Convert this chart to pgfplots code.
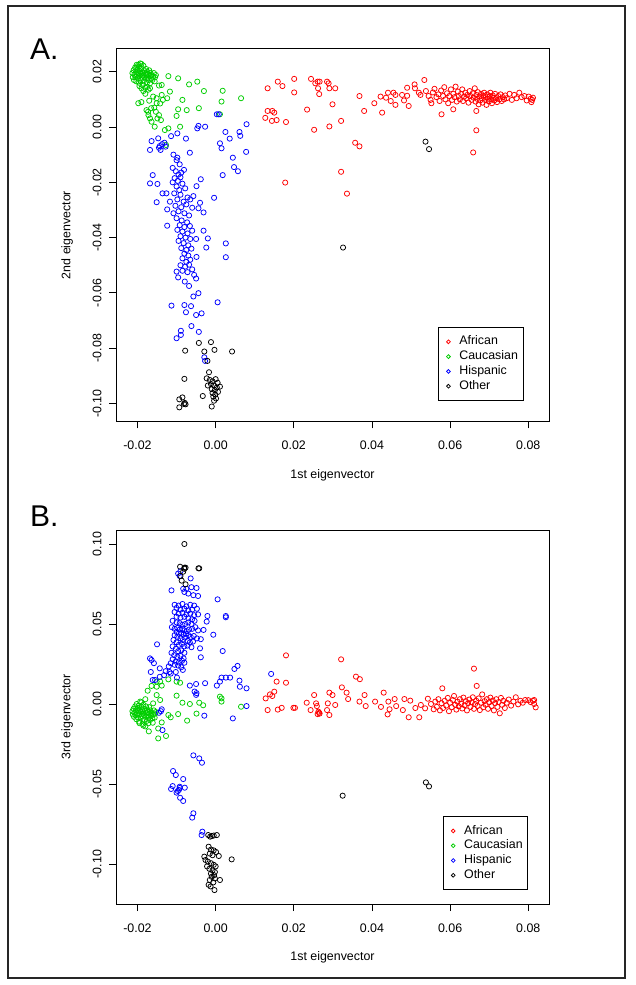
\documentclass[border=0pt]{standalone}
\usepackage{pgfplots}
\pgfplotsset{compat=1.18}
\usepackage{fontspec}
\setmainfont{Liberation Sans}
\definecolor{rred}{RGB}{255,0,0}
\definecolor{rgreen}{RGB}{0,205,0}
\definecolor{rblue}{RGB}{0,0,255}
\newcommand{\fs}{\fontsize{12.4}{14}\selectfont}
\pgfplotsset{
  pca/.style={
    scale only axis, width=433pt,
    xmin=-0.0255, xmax=0.0853,
    axis line style={line width=0.8pt},
    every tick/.style={line width=0.8pt, black},
    tick align=outside, major tick length=7pt,
    xtick={-0.02,0,0.02,0.04,0.06,0.08},
    xtick pos=bottom, ytick pos=left,
    scaled ticks=false,
    tick label style={font=\fs},
    /pgf/number format/assume math mode=true,
    /pgf/number format/fixed,
    /pgf/number format/fixed zerofill,
    /pgf/number format/precision=2,
    xticklabel style={anchor=north, yshift=-9.5pt},
    yticklabel style={xshift=-4pt, rotate=90, anchor=south},
    label style={font=\fs},
    xlabel={1st eigenvector},
    ylabel style={at={(axis description cs:-0.113,0.5)}, anchor=center},
    only marks,
    legend cell align=left,
    legend style={draw=black, line width=0.8pt, fill=white, font=\fs,
      inner xsep=3.5pt, inner ysep=7pt, row sep=0pt,
      nodes={inner sep=1.5pt, text height=9pt, text depth=2.8pt},
      anchor=north west},
    legend image code/.code={\path (0pt,0pt) (15pt,0pt); \draw[##1, mark size=1.9pt] plot coordinates {(6pt,0pt)};},
  },
  pt/.style={mark=o, mark size=2.6pt, mark options={line width=0.75pt}},
}
\begin{document}
\begin{tikzpicture}
\useasboundingbox (0pt,0pt) rectangle (635pt,985pt);
\draw[line width=2pt, black!85] (8pt,7pt) rectangle (625pt,979pt);
\node[anchor=base west, font=\fontsize{30}{34}\selectfont, inner sep=0pt] at (30pt,925pt) {A.};
\node[anchor=base west, font=\fontsize{30}{34}\selectfont, inner sep=0pt] at (30pt,458pt) {B.};

% ---------------- Panel A ----------------
\begin{axis}[pca, at={(116pt,563.7pt)}, anchor=south west, height=372.6pt,
  ymin=-0.10644, ymax=0.02832,
  ytick={-0.10,-0.08,-0.06,-0.04,-0.02,0,0.02},
  ylabel={2nd eigenvector},
  xlabel style={at={(axis description cs:0.5,-0.146)}, anchor=center},
  legend style={at={(0.744,0.253)}}]
\addplot[pt, rred] table {
0.0133 0.0140
0.0159 0.0164
0.0171 0.0148
0.0201 0.0174
0.0201 0.0125
0.0244 0.0174
0.0255 0.0158
0.0261 0.0164
0.0262 0.0140
0.0265 0.0119
0.0266 0.0164
0.0285 0.0164
0.0289 0.0158
0.0291 0.0140
0.0306 0.0140
0.0299 0.0082
0.0234 0.0063
0.0252 -0.0010
0.0291 0.0002
0.0321 0.0022
0.0127 0.0033
0.0133 0.0058
0.0145 0.0058
0.0150 0.0052
0.0144 0.0022
0.0156 0.0025
0.0180 0.0018
0.0178 -0.0201
0.0321 -0.0162
0.0336 -0.0241
0.0357 -0.0057
0.0368 -0.0070
0.0368 0.0112
0.0380 0.0058
0.0406 0.0086
0.0422 0.0110
0.0426 0.0052
0.0436 0.0106
0.0441 0.0124
0.0448 0.0094
0.0455 0.0124
0.0460 0.0080
0.0460 0.0116
0.0477 0.0116
0.0482 0.0096
0.0490 0.0142
0.0490 0.0113
0.0494 0.0076
0.0509 0.0154
0.0510 0.0140
0.0520 0.0124
0.0524 0.0116
0.0534 0.0170
0.0552 0.0086
0.0578 0.0046
0.0608 0.0064
0.0659 -0.0092
0.0667 0.0058
0.0667 -0.0012
0.0538 0.0130
0.0545 0.0112
0.0550 0.0098
0.0556 0.0125
0.0560 0.0138
0.0565 0.0108
0.0570 0.0118
0.0573 0.0094
0.0577 0.0132
0.0582 0.0112
0.0585 0.0144
0.0588 0.0100
0.0592 0.0122
0.0595 0.0086
0.0598 0.0112
0.0602 0.0136
0.0605 0.0098
0.0608 0.0120
0.0611 0.0108
0.0614 0.0146
0.0617 0.0092
0.0620 0.0128
0.0622 0.0112
0.0625 0.0100
0.0628 0.0120
0.0631 0.0136
0.0633 0.0094
0.0636 0.0110
0.0639 0.0124
0.0641 0.0104
0.0644 0.0116
0.0647 0.0088
0.0650 0.0130
0.0652 0.0112
0.0655 0.0098
0.0658 0.0122
0.0660 0.0106
0.0663 0.0140
0.0665 0.0092
0.0667 0.0116
0.0669 0.0102
0.0671 0.0126
0.0673 0.0082
0.0675 0.0110
0.0677 0.0096
0.0679 0.0120
0.0681 0.0104
0.0683 0.0088
0.0685 0.0114
0.0687 0.0124
0.0689 0.0098
0.0691 0.0108
0.0693 0.0080
0.0695 0.0118
0.0697 0.0102
0.0699 0.0092
0.0701 0.0112
0.0703 0.0124
0.0705 0.0100
0.0707 0.0086
0.0709 0.0114
0.0711 0.0106
0.0713 0.0096
0.0715 0.0120
0.0718 0.0104
0.0720 0.0090
0.0723 0.0112
0.0726 0.0100
0.0729 0.0118
0.0732 0.0094
0.0735 0.0108
0.0738 0.0100
0.0741 0.0114
0.0745 0.0104
0.0752 0.0120
0.0758 0.0098
0.0764 0.0116
0.0770 0.0104
0.0777 0.0124
0.0783 0.0108
0.0790 0.0112
0.0796 0.0096
0.0801 0.0110
0.0806 0.0102
0.0810 0.0098
0.0812 0.0106
0.0808 0.0090
};
\addlegendentry{African}
\addplot[pt, rgreen] table {
-0.0213 0.0195
-0.0212 0.0180
-0.0210 0.0205
-0.0209 0.0170
-0.0208 0.0190
-0.0206 0.0215
-0.0205 0.0182
-0.0204 0.0198
-0.0203 0.0165
-0.0202 0.0225
-0.0201 0.0188
-0.0200 0.0208
-0.0199 0.0175
-0.0198 0.0195
-0.0197 0.0218
-0.0196 0.0160
-0.0195 0.0185
-0.0194 0.0202
-0.0193 0.0230
-0.0192 0.0170
-0.0191 0.0192
-0.0190 0.0212
-0.0189 0.0178
-0.0188 0.0198
-0.0187 0.0152
-0.0186 0.0186
-0.0185 0.0222
-0.0184 0.0165
-0.0183 0.0205
-0.0182 0.0180
-0.0181 0.0195
-0.0180 0.0142
-0.0179 0.0175
-0.0178 0.0210
-0.0177 0.0188
-0.0176 0.0160
-0.0175 0.0200
-0.0174 0.0178
-0.0173 0.0192
-0.0172 0.0135
-0.0171 0.0170
-0.0170 0.0205
-0.0169 0.0185
-0.0168 0.0158
-0.0167 0.0196
-0.0165 0.0175
-0.0164 0.0188
-0.0162 0.0170
-0.0160 0.0182
-0.0158 0.0195
-0.0156 0.0165
-0.0155 0.0180
-0.0153 0.0188
-0.0190 0.0140
-0.0185 0.0130
-0.0195 0.0148
-0.0180 0.0120
-0.0175 0.0145
-0.0168 0.0140
-0.0198 0.0225
-0.0203 0.0215
-0.0190 0.0228
-0.0198 0.0086
-0.0190 0.0090
-0.0177 0.0061
-0.0173 0.0055
-0.0165 0.0068
-0.0157 0.0070
-0.0153 0.0055
-0.0145 0.0043
-0.0149 0.0031
-0.0140 0.0025
-0.0156 0.0001
-0.0164 0.0019
-0.0168 0.0031
-0.0172 0.0043
-0.0130 -0.0011
-0.0121 -0.0005
-0.0127 -0.0065
-0.0151 0.0086
-0.0138 0.0116
-0.0121 0.0184
-0.0096 0.0176
-0.0068 0.0154
-0.0047 0.0164
-0.0030 0.0130
0.0018 0.0131
0.0065 0.0104
0.0015 0.0092
-0.0043 0.0068
-0.0074 0.0061
-0.0085 0.0098
-0.0096 0.0064
-0.0100 0.0040
-0.0091 0.0001
-0.0117 0.0128
-0.0124 0.0104
-0.0138 0.0152
-0.0145 0.0150
-0.0151 0.0104
-0.0142 0.0085
-0.0135 0.0098
0.0011 0.0046
-0.0160 0.0110
-0.0170 0.0095
};
\addlegendentry{Caucasian}
\addplot[pt, rblue] table {
0.0003 0.0046
0.0008 0.0046
0.0025 -0.0018
0.0036 -0.0042
0.0061 -0.0018
0.0063 -0.0032
0.0079 0.0010
0.0078 -0.0090
0.0044 -0.0111
0.0047 -0.0145
0.0057 -0.0160
0.0018 -0.0174
0.0011 -0.0059
0.0015 -0.0077
-0.0027 0.0001
-0.0044 0.0004
-0.0047 -0.0005
-0.0076 -0.0042
-0.0098 -0.0023
-0.0114 -0.0033
-0.0066 -0.0093
-0.0098 -0.0111
-0.0081 -0.0155
-0.0038 -0.0189
-0.0049 -0.0214
-0.0057 -0.0250
-0.0040 -0.0274
-0.0044 -0.0294
-0.0031 -0.0309
-0.0004 -0.0256
-0.0031 -0.0375
-0.0020 -0.0403
-0.0024 -0.0436
0.0026 -0.0421
0.0026 -0.0471
-0.0050 -0.0405
-0.0049 -0.0470
-0.0164 -0.0051
-0.0168 -0.0083
-0.0147 -0.0041
-0.0145 -0.0075
-0.0141 -0.0083
-0.0143 -0.0069
-0.0137 -0.0062
-0.0131 -0.0057
-0.0128 -0.0071
-0.0168 -0.0204
-0.0161 -0.0174
-0.0149 -0.0206
-0.0151 -0.0272
-0.0136 -0.0240
-0.0126 -0.0240
-0.0124 -0.0298
-0.0117 -0.0270
-0.0108 -0.0312
-0.0124 -0.0357
-0.0108 -0.0100
-0.0100 -0.0120
-0.0092 -0.0135
-0.0110 -0.0148
-0.0102 -0.0160
-0.0095 -0.0172
-0.0088 -0.0165
-0.0105 -0.0185
-0.0097 -0.0195
-0.0090 -0.0182
-0.0110 -0.0200
-0.0085 -0.0205
-0.0100 -0.0215
-0.0093 -0.0228
-0.0078 -0.0222
-0.0106 -0.0240
-0.0090 -0.0245
-0.0072 -0.0255
-0.0098 -0.0262
-0.0082 -0.0270
-0.0065 -0.0262
-0.0103 -0.0285
-0.0088 -0.0290
-0.0075 -0.0280
-0.0060 -0.0292
-0.0095 -0.0305
-0.0080 -0.0312
-0.0068 -0.0320
-0.0100 -0.0330
-0.0087 -0.0338
-0.0073 -0.0345
-0.0092 -0.0355
-0.0080 -0.0362
-0.0066 -0.0358
-0.0098 -0.0372
-0.0085 -0.0378
-0.0072 -0.0385
-0.0060 -0.0375
-0.0090 -0.0395
-0.0077 -0.0400
-0.0065 -0.0405
-0.0095 -0.0412
-0.0082 -0.0420
-0.0070 -0.0428
-0.0088 -0.0438
-0.0075 -0.0445
-0.0062 -0.0440
-0.0080 -0.0458
-0.0070 -0.0465
-0.0085 -0.0475
-0.0075 -0.0488
-0.0065 -0.0480
-0.0090 -0.0500
-0.0078 -0.0505
-0.0068 -0.0498
-0.0100 -0.0523
-0.0085 -0.0520
-0.0072 -0.0525
-0.0060 -0.0515
-0.0096 -0.0544
-0.0079 -0.0559
-0.0068 -0.0575
-0.0055 -0.0535
-0.0050 -0.0548
-0.0057 -0.0613
-0.0044 -0.0601
-0.0113 -0.0646
-0.0080 -0.0644
-0.0063 -0.0648
-0.0076 -0.0670
-0.0050 -0.0680
-0.0036 -0.0674
0.0005 -0.0634
-0.0062 -0.0720
-0.0089 -0.0737
-0.0100 -0.0764
-0.0089 -0.0752
-0.0043 -0.0741
-0.0029 -0.0833
-0.0027 -0.0846
};
\addlegendentry{Hispanic}
\addplot[pt, black] table {
-0.0078 -0.0809
-0.0043 -0.0781
-0.0012 -0.0778
-0.0003 -0.0806
0.0042 -0.0812
-0.0029 -0.0812
-0.0021 -0.0846
-0.0080 -0.0911
-0.0017 -0.0887
-0.0023 -0.0909
-0.0015 -0.0915
-0.0008 -0.0920
0.0000 -0.0912
0.0005 -0.0925
-0.0012 -0.0930
-0.0004 -0.0935
0.0003 -0.0942
-0.0010 -0.0948
-0.0002 -0.0952
0.0006 -0.0958
-0.0008 -0.0962
-0.0001 -0.0968
-0.0006 -0.0975
0.0001 -0.0982
-0.0004 -0.0990
-0.0020 -0.0935
0.0011 -0.0939
-0.0033 -0.0973
-0.0010 -0.1011
-0.0093 -0.0985
-0.0085 -0.0978
-0.0081 -0.1002
-0.0077 -0.1003
-0.0093 -0.1014
-0.0079 -0.0998
0.0326 -0.0436
0.0537 -0.0053
0.0546 -0.0080
};
\addlegendentry{Other}
\end{axis}

% ---------------- Panel B ----------------
\begin{axis}[pca, at={(116pt,81pt)}, anchor=south west, height=374pt,
  ymin=-0.125, ymax=0.10875,
  ytick={-0.10,-0.05,0,0.05,0.10},
  ylabel={3rd eigenvector},
  xlabel style={at={(axis description cs:0.5,-0.143)}, anchor=center},
  legend style={at={(0.755,0.235)}}]
\addplot[pt, rred] table {
0.0128 0.0035
0.0133 -0.0038
0.0139 0.0060
0.0145 0.0050
0.0150 0.0077
0.0156 0.0140
0.0180 0.0304
0.0180 0.0133
0.0159 -0.0035
0.0169 -0.0024
0.0199 -0.0024
0.0203 -0.0024
0.0233 0.0008
0.0243 -0.0038
0.0252 0.0056
0.0257 0.0004
0.0259 -0.0013
0.0263 -0.0048
0.0266 -0.0060
0.0261 -0.0063
0.0265 -0.0055
0.0285 -0.0038
0.0287 0.0004
0.0291 0.0071
0.0299 0.0056
0.0291 -0.0069
0.0306 -0.0006
0.0321 0.0279
0.0323 0.0104
0.0335 0.0071
0.0339 0.0031
0.0359 0.0171
0.0369 0.0155
0.0368 0.0015
0.0381 0.0056
0.0384 -0.0013
0.0408 0.0015
0.0423 -0.0018
0.0430 0.0071
0.0440 -0.0065
0.0442 0.0015
0.0445 -0.0033
0.0458 0.0031
0.0462 -0.0013
0.0479 -0.0038
0.0483 0.0031
0.0494 -0.0083
0.0498 0.0021
0.0511 -0.0025
0.0521 -0.0083
0.0525 -0.0006
0.0536 -0.0027
0.0543 0.0033
0.0551 0.0000
0.0558 -0.0033
0.0562 0.0015
0.0566 -0.0018
0.0570 0.0030
0.0574 -0.0040
0.0578 0.0005
0.0580 0.0098
0.0582 -0.0025
0.0586 0.0020
0.0590 -0.0010
0.0594 0.0038
0.0597 -0.0045
0.0600 0.0008
0.0604 -0.0020
0.0607 0.0025
0.0610 0.0050
0.0613 -0.0005
0.0616 -0.0035
0.0619 0.0015
0.0622 -0.0015
0.0625 0.0030
0.0628 0.0002
0.0631 -0.0028
0.0634 0.0040
0.0637 -0.0008
0.0640 0.0018
0.0643 -0.0040
0.0646 0.0005
0.0649 0.0028
0.0652 -0.0018
0.0655 0.0010
0.0658 0.0042
0.0661 0.0221
0.0661 -0.0030
0.0664 0.0000
0.0667 0.0020
0.0668 0.0113
0.0670 -0.0012
0.0673 0.0035
0.0676 -0.0038
0.0679 0.0008
0.0682 0.0060
0.0685 -0.0020
0.0688 0.0018
0.0691 -0.0005
0.0694 0.0030
0.0697 -0.0030
0.0700 0.0010
0.0703 0.0040
0.0706 -0.0012
0.0709 0.0022
0.0712 -0.0040
0.0715 0.0005
0.0718 0.0030
0.0721 -0.0018
0.0724 0.0012
0.0727 -0.0058
0.0730 0.0038
0.0733 -0.0005
0.0736 0.0020
0.0740 -0.0025
0.0745 0.0008
0.0750 0.0028
0.0756 -0.0010
0.0762 0.0015
0.0768 0.0042
0.0774 -0.0002
0.0780 0.0020
0.0786 0.0008
0.0792 0.0025
0.0800 0.0024
0.0806 0.0012
0.0812 0.0020
0.0815 0.0025
0.0819 -0.0021
0.0815 0.0000
};
\addlegendentry{African}
\addplot[pt, rgreen] table {
-0.0213 -0.0045
-0.0212 -0.0065
-0.0210 -0.0030
-0.0209 -0.0080
-0.0208 -0.0055
-0.0206 -0.0015
-0.0205 -0.0070
-0.0204 -0.0040
-0.0203 -0.0095
-0.0202 0.0000
-0.0201 -0.0060
-0.0200 -0.0025
-0.0199 -0.0085
-0.0198 -0.0045
-0.0197 -0.0010
-0.0196 -0.0110
-0.0195 -0.0065
-0.0194 -0.0035
-0.0193 0.0015
-0.0192 -0.0090
-0.0191 -0.0050
-0.0190 -0.0020
-0.0189 -0.0075
-0.0188 -0.0040
-0.0187 -0.0125
-0.0186 -0.0060
-0.0185 -0.0005
-0.0184 -0.0100
-0.0183 -0.0030
-0.0182 -0.0070
-0.0181 -0.0045
-0.0180 -0.0140
-0.0179 -0.0080
-0.0178 -0.0015
-0.0177 -0.0055
-0.0176 -0.0105
-0.0175 -0.0035
-0.0174 -0.0070
-0.0173 -0.0050
-0.0172 -0.0120
-0.0171 -0.0085
-0.0170 -0.0020
-0.0169 -0.0060
-0.0168 -0.0100
-0.0167 -0.0040
-0.0165 -0.0075
-0.0164 -0.0055
-0.0162 -0.0090
-0.0160 -0.0065
-0.0158 -0.0040
-0.0156 -0.0085
-0.0155 -0.0060
-0.0153 -0.0050
-0.0190 0.0010
-0.0180 0.0030
-0.0185 -0.0135
-0.0195 -0.0120
-0.0174 0.0083
-0.0164 0.0113
-0.0151 0.0140
-0.0138 0.0115
-0.0121 0.0154
-0.0100 0.0140
-0.0091 0.0133
-0.0151 0.0056
-0.0142 0.0025
-0.0160 0.0004
-0.0121 -0.0069
-0.0115 -0.0083
-0.0138 -0.0115
-0.0161 -0.0117
-0.0171 -0.0171
-0.0147 -0.0153
-0.0147 -0.0215
-0.0127 -0.0200
-0.0096 -0.0063
-0.0085 0.0008
-0.0066 0.0000
-0.0073 -0.0104
-0.0049 -0.0060
-0.0042 0.0008
-0.0032 -0.0008
0.0011 0.0046
0.0015 0.0035
0.0015 0.0015
0.0065 -0.0017
-0.0100 0.0052
-0.0151 0.0108
-0.0142 0.0140
};
\addlegendentry{Caucasian}
\addplot[pt, rblue] table {
-0.0092 0.0800
-0.0096 0.0815
-0.0090 0.0830
-0.0113 0.0710
-0.0083 0.0720
-0.0075 0.0720
-0.0062 0.0730
-0.0049 0.0725
-0.0064 0.0785
-0.0080 0.0700
-0.0070 0.0690
-0.0057 0.0680
-0.0045 0.0675
0.0005 0.0654
0.0026 0.0542
0.0026 0.0550
-0.0021 0.0550
-0.0023 0.0515
-0.0006 0.0433
-0.0031 0.0463
-0.0038 0.0405
-0.0040 0.0348
-0.0038 0.0292
0.0018 0.0331
-0.0150 0.0373
-0.0168 0.0285
-0.0164 0.0275
-0.0158 0.0255
-0.0143 0.0223
-0.0166 0.0200
-0.0143 0.0170
-0.0155 0.0150
-0.0161 0.0150
-0.0132 0.0180
-0.0115 0.0190
-0.0102 0.0200
-0.0080 0.0258
-0.0084 0.0213
-0.0099 0.0165
-0.0066 0.0115
-0.0050 0.0125
-0.0049 0.0068
-0.0050 0.0057
-0.0054 0.0078
-0.0027 0.0130
0.0003 0.0115
0.0011 0.0140
0.0015 0.0165
0.0026 0.0165
0.0037 0.0165
0.0048 0.0219
0.0056 0.0238
0.0061 0.0146
0.0062 0.0108
0.0079 0.0098
0.0079 -0.0013
0.0044 -0.0090
-0.0029 -0.0073
0.0142 0.0188
-0.0138 -0.0033
-0.0140 -0.0045
-0.0136 -0.0163
-0.0145 -0.0055
-0.0105 0.0620
-0.0095 0.0615
-0.0085 0.0625
-0.0075 0.0610
-0.0065 0.0620
-0.0055 0.0615
-0.0048 0.0595
-0.0100 0.0600
-0.0090 0.0590
-0.0080 0.0595
-0.0070 0.0585
-0.0060 0.0590
-0.0105 0.0575
-0.0095 0.0565
-0.0085 0.0570
-0.0075 0.0560
-0.0065 0.0565
-0.0055 0.0555
-0.0045 0.0560
-0.0100 0.0545
-0.0090 0.0540
-0.0080 0.0545
-0.0070 0.0535
-0.0060 0.0530
-0.0110 0.0520
-0.0100 0.0510
-0.0092 0.0505
-0.0085 0.0495
-0.0078 0.0500
-0.0070 0.0510
-0.0062 0.0500
-0.0054 0.0520
-0.0112 0.0480
-0.0105 0.0470
-0.0098 0.0475
-0.0092 0.0465
-0.0085 0.0470
-0.0080 0.0460
-0.0074 0.0455
-0.0068 0.0465
-0.0060 0.0470
-0.0052 0.0480
-0.0045 0.0460
-0.0100 0.0450
-0.0094 0.0440
-0.0088 0.0445
-0.0082 0.0435
-0.0076 0.0440
-0.0070 0.0430
-0.0064 0.0420
-0.0056 0.0425
-0.0048 0.0410
-0.0105 0.0430
-0.0098 0.0420
-0.0090 0.0410
-0.0084 0.0400
-0.0078 0.0415
-0.0072 0.0395
-0.0066 0.0385
-0.0058 0.0390
-0.0108 0.0400
-0.0100 0.0385
-0.0094 0.0370
-0.0086 0.0375
-0.0080 0.0360
-0.0072 0.0365
-0.0062 0.0355
-0.0110 0.0360
-0.0102 0.0345
-0.0096 0.0330
-0.0088 0.0335
-0.0080 0.0320
-0.0113 0.0320
-0.0106 0.0305
-0.0098 0.0295
-0.0090 0.0300
-0.0082 0.0285
-0.0110 0.0280
-0.0102 0.0265
-0.0094 0.0260
-0.0086 0.0270
-0.0105 0.0245
-0.0096 0.0240
-0.0088 0.0230
-0.0115 0.0255
-0.0120 0.0235
-0.0128 0.0205
-0.0118 0.0200
-0.0057 -0.0321
-0.0042 -0.0340
-0.0035 -0.0367
-0.0109 -0.0419
-0.0102 -0.0444
-0.0083 -0.0469
-0.0110 -0.0513
-0.0092 -0.0517
-0.0079 -0.0523
-0.0114 -0.0531
-0.0094 -0.0537
-0.0100 -0.0554
-0.0097 -0.0544
-0.0091 -0.0586
-0.0083 -0.0606
-0.0057 -0.0683
-0.0060 -0.0710
-0.0034 -0.0798
-0.0036 -0.0819
-0.0092 -0.0525
};
\addlegendentry{Hispanic}
\addplot[pt, black] table {
-0.0080 0.1000
-0.0091 0.0858
-0.0080 0.0852
-0.0077 0.0852
-0.0083 0.0827
-0.0090 0.0800
-0.0087 0.0771
-0.0077 0.0748
-0.0044 0.0848
-0.0042 0.0848
-0.0080 0.0845
-0.0019 -0.0819
-0.0010 -0.0825
-0.0005 -0.0822
0.0003 -0.0819
-0.0014 -0.0829
-0.0029 -0.0954
-0.0026 -0.0975
-0.0018 -0.0892
-0.0012 -0.0910
-0.0005 -0.0915
0.0001 -0.0925
0.0008 -0.0950
-0.0015 -0.0935
-0.0008 -0.0945
-0.0020 -0.0985
-0.0012 -0.0995
-0.0005 -0.1005
0.0000 -0.1015
-0.0022 -0.1015
-0.0016 -0.1030
-0.0008 -0.1040
-0.0002 -0.1050
-0.0012 -0.1060
-0.0004 -0.1070
-0.0010 -0.1080
-0.0002 -0.1090
-0.0015 -0.1100
-0.0006 -0.1115
-0.0018 -0.1130
-0.0013 -0.1140
-0.0003 -0.1163
0.0011 -0.1100
0.0041 -0.0971
0.0325 -0.0573
0.0538 -0.0490
0.0546 -0.0515
};
\addlegendentry{Other}
\end{axis}
\end{tikzpicture}
\end{document}
